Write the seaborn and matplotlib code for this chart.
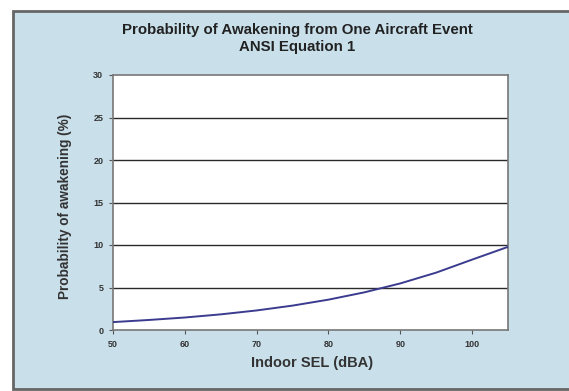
import matplotlib
matplotlib.use("Agg")
import matplotlib.pyplot as plt
import seaborn as sns
import pandas as pd
from matplotlib.patches import Rectangle

sel_dba = [50, 55, 60, 65, 70, 75, 80, 85, 90, 95, 100, 105]
awakening_pct = [0.93, 1.18, 1.47, 1.84, 2.3, 2.87, 3.57, 4.43, 5.48, 6.75, 8.28, 9.78]
x_ticks = [50, 60, 70, 80, 90, 100]
y_ticks = [0, 5, 10, 15, 20, 25, 30]

df = pd.DataFrame({"SEL": sel_dba, "P": awakening_pct})

sns.set_theme(style="white")
plt.rcParams["font.family"] = ["Liberation Sans", "DejaVu Sans"]

bg = "#c9e0eb"
fig = plt.figure(figsize=(5.69, 3.91), dpi=100)
fig.patch.set_facecolor("white")
fig.patches.append(Rectangle((13/569, 2/391), 1 - 13/569 + 0.01, 1 - 13/391,
                             transform=fig.transFigure, facecolor=bg,
                             edgecolor="#666666", linewidth=2.0, zorder=-10))

ax = fig.add_axes([113/569, (391-330)/391, (508-113)/569, (330-75)/391])
ax.set_zorder(5)
ax.set_facecolor("white")

for yv in y_ticks[1:-1]:
    ax.axhline(yv, color="#2a2a2a", linewidth=1.0, zorder=1)

sns.lineplot(data=df, x="SEL", y="P", ax=ax, color="#3b3b8f", linewidth=1.4, zorder=3)

ax.set_xlim(50, 105)
ax.set_ylim(0, 30)
ax.set_xticks(x_ticks)
ax.set_yticks(y_ticks)
ax.tick_params(axis="both", which="both", direction="out", length=3, width=0.8,
               labelsize=6.5, color="#555555", pad=4,
               bottom=True, left=True)
for lbl in ax.get_xticklabels() + ax.get_yticklabels():
    lbl.set_fontweight("bold")
    lbl.set_color("#333333")
for s in ax.spines.values():
    s.set_color("#777777")
    s.set_linewidth(1.2)

ax.set_xlabel("Indoor SEL (dBA)", fontsize=10.5, fontweight="bold", color="#333333", va="center")
ax.set_ylabel("Probability of awakening (%)", fontsize=9.8, fontweight="bold", color="#333333", va="center")
ax.xaxis.set_label_coords((312-113)/395, -(363-330)/255)
ax.yaxis.set_label_coords(-(113-65)/395, (330-206)/255)

fig.text(297/569, 1 - 30/391, "Probability of Awakening from One Aircraft Event",
         ha="center", va="center", fontsize=10.8, fontweight="bold", color="#222222")
fig.text(297/569, 1 - 47/391, "ANSI Equation 1",
         ha="center", va="center", fontsize=10.8, fontweight="bold", color="#222222")

fig.savefig("out.png", dpi=100, facecolor=fig.get_facecolor())
